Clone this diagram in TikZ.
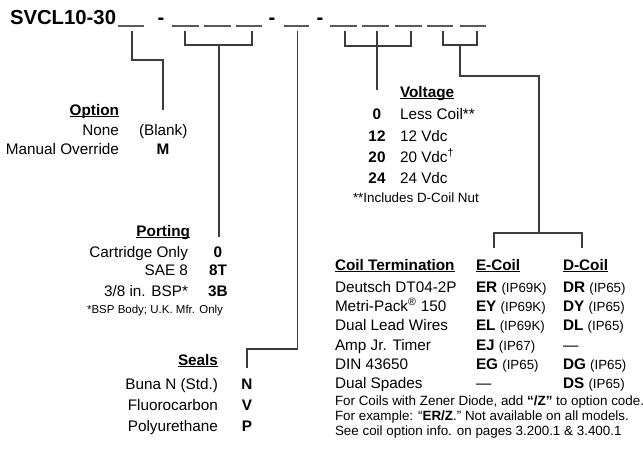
\documentclass[tikz,border=0pt]{standalone}
\usepackage{fontspec}
\setmainfont{Liberation Sans}
\definecolor{blankgray}{HTML}{5A5A5A}
\definecolor{conngray}{HTML}{3C3C3C}
\newcommand\ulx[1]{\setbox0=\hbox{#1}\rlap{\rule[-2.3pt]{\wd0}{1.2pt}}\box0}
\newcommand\ipx[1]{{\fontsize{13.3}{15}\selectfont(#1)}}
\tikzset{
  txt/.style={inner sep=0pt, outer sep=0pt, font=\fontsize{15.3}{18}\selectfont},
  hd/.style={inner sep=0pt, outer sep=0pt, font=\fontsize{15.3}{18}\selectfont\bfseries},
  smalltxt/.style={inner sep=0pt, outer sep=0pt, font=\fontsize{13.4}{15}\selectfont},
  tinytxt/.style={inner sep=0pt, outer sep=0pt, font=\fontsize{11.5}{13}\selectfont},
  titletxt/.style={inner sep=0pt, outer sep=0pt, font=\fontsize{20.3}{24}\selectfont\bfseries},
  blank/.style={line width=1.6pt, draw=blankgray},
  conn/.style={line width=1.4pt, draw=conngray},
}
\begin{document}
\begin{tikzpicture}[x=1pt,y=-1pt]
\useasboundingbox (0,0) rectangle (643,448);
% title
\node[titletxt, anchor=base west] (title) at (10,24.8) {SVCL10-30};
% blanks
\foreach \a/\b/\n in {118/144/1,172/199/2,204/231/3,236/262/4,284/309/5,330/357/6,362/389/7,395/422/8,427/453/9,460/486/10}{
  \coordinate (bl\n) at (\a,26);
  \coordinate (br\n) at (\b,26);
  \draw[blank] (bl\n) -- (br\n);
}
\foreach \x/\n in {161/1,272/2,320/3}{
  \node[titletxt, anchor=base] (dash\n) at (\x,24.8) {-};
}
% ---- connectors
% option
\coordinate (o1) at (132,31);
\coordinate (o2) at (163,110);
\draw[conn] (o1) |- (163,60) -- (o2);
% porting
\coordinate (p1) at (185,31);
\coordinate (p2) at (252,31);
\coordinate (pm) at (219,45);
\coordinate (pe) at (219,237);
\draw[conn] (p1) |- (pm) -| (p2);
\draw[conn] (pm) -- (pe);
% seals
\coordinate (s1) at (297.5,31);
\coordinate (s2) at (247,368);
\draw[conn] (s1) |- (247,349) -- (s2);
% voltage
\coordinate (v1) at (345,31);
\coordinate (v2) at (411,31);
\coordinate (vm) at (377,31);
\coordinate (ve) at (377,90);
\draw[conn] (v1) |- (377,46) -| (v2);
\draw[conn] (vm) -- (ve);
% coil
\coordinate (c1) at (443,31);
\coordinate (c2) at (477,31);
\coordinate (cm) at (460,45);
\coordinate (ck) at (539,233);
\coordinate (cl) at (494,248);
\coordinate (cr) at (582,248);
\draw[conn] (c1) |- (cm) -| (c2);
\draw[conn] (cm) |- (539,76) -- (ck);
\draw[conn] (cl) |- (ck) -| (cr);
% ---- Option
\node[hd, anchor=base east] (opth) at (119,115) {\ulx{Option}};
\node[txt, anchor=base east] (opt1) at (119,135) {None};
\node[txt, anchor=base west] (opt1c) at (139,135) {(Blank)};
\node[txt, anchor=base east] (opt2) at (119,154) {Manual Override};
\node[hd, anchor=base] (opt2c) at (163,154) {M};
% ---- Porting
\node[hd, anchor=base east] (porth) at (190,236) {\ulx{Porting}};
\node[txt, anchor=base east] (port1) at (188,257) {Cartridge Only};
\node[hd, anchor=base] (port1c) at (218,257) {0};
\node[txt, anchor=base east] (port2) at (188,275.5) {SAE 8};
\node[hd, anchor=base] (port2c) at (218,275.5) {8T};
\node[txt, anchor=base east] (port3) at (188,296) {3/8 in. BSP*};
\node[hd, anchor=base] (port3c) at (218,296) {3B};
\node[tinytxt, anchor=base east] (portn) at (223,313) {*BSP Body; U.K. Mfr. Only};
% ---- Seals
\node[hd, anchor=base east] (sealh) at (218,365) {\ulx{Seals}};
\node[txt, anchor=base east] (seal1) at (218,389) {Buna N (Std.)};
\node[hd, anchor=base] (seal1c) at (247,389) {N};
\node[txt, anchor=base east] (seal2) at (218,410) {Fluorocarbon};
\node[hd, anchor=base] (seal2c) at (247,410) {V};
\node[txt, anchor=base east] (seal3) at (218,431) {Polyurethane};
\node[hd, anchor=base] (seal3c) at (247,431) {P};
% ---- Voltage
\node[hd, anchor=base west] (volth) at (400,97) {\ulx{Voltage}};
\node[hd, anchor=base] (volt1c) at (377,119) {0};
\node[txt, anchor=base west] (volt1) at (400,119) {Less Coil**};
\node[hd, anchor=base] (volt2c) at (377,141) {12};
\node[txt, anchor=base west] (volt2) at (400,141) {12 Vdc};
\node[hd, anchor=base] (volt3c) at (377,162) {20};
\node[txt, anchor=base west] (volt3) at (400,162) {20 Vdc\textsuperscript{†}};
\node[hd, anchor=base] (volt4c) at (377,183) {24};
\node[txt, anchor=base west] (volt4) at (400,183) {24 Vdc};
\node[smalltxt, anchor=base west] (voltn) at (353,202) {**Includes D-Coil Nut};
% ---- Coil termination
\node[hd, anchor=base west] (coilh) at (335,270) {\ulx{Coil Termination}};
\node[hd, anchor=base west] (ecoilh) at (476,270) {\ulx{E-Coil}};
\node[hd, anchor=base west] (dcoilh) at (563,270) {\ulx{D-Coil}};
\foreach \y/\t/\e/\d [count=\i] in {
  292/{Deutsch DT04-2P}/{\textbf{ER} \ipx{IP69K}}/{\textbf{DR} \ipx{IP65}},
  311/{Metri-Pack\textsuperscript{®} 150}/{\textbf{EY} \ipx{IP69K}}/{\textbf{DY} \ipx{IP65}},
  330.5/{Dual Lead Wires}/{\textbf{EL} \ipx{IP69K}}/{\textbf{DL} \ipx{IP65}},
  350/{Amp Jr. Timer}/{\textbf{EJ} \ipx{IP67}}/{—},
  369/{DIN 43650}/{\textbf{EG} \ipx{IP65}}/{\textbf{DG} \ipx{IP65}},
  388/{Dual Spades}/{—}/{\textbf{DS} \ipx{IP65}}}{
  \node[txt, anchor=base west] (ct\i) at (335,\y) {\t};
  \node[txt, anchor=base west] (ce\i) at (476,\y) {\e};
  \node[txt, anchor=base west] (cd\i) at (563,\y) {\d};
}
\node[smalltxt, anchor=base west] (cn1) at (335,405) {For Coils with Zener Diode, add \textbf{“/Z”} to option code.};
\node[smalltxt, anchor=base west] (cn2) at (335,420) {For example: “\textbf{ER/Z}.” Not available on all models.};
\node[smalltxt, anchor=base west] (cn3) at (335,435) {See coil option info. on pages 3.200.1 \& 3.400.1};
\end{tikzpicture}
\end{document}
